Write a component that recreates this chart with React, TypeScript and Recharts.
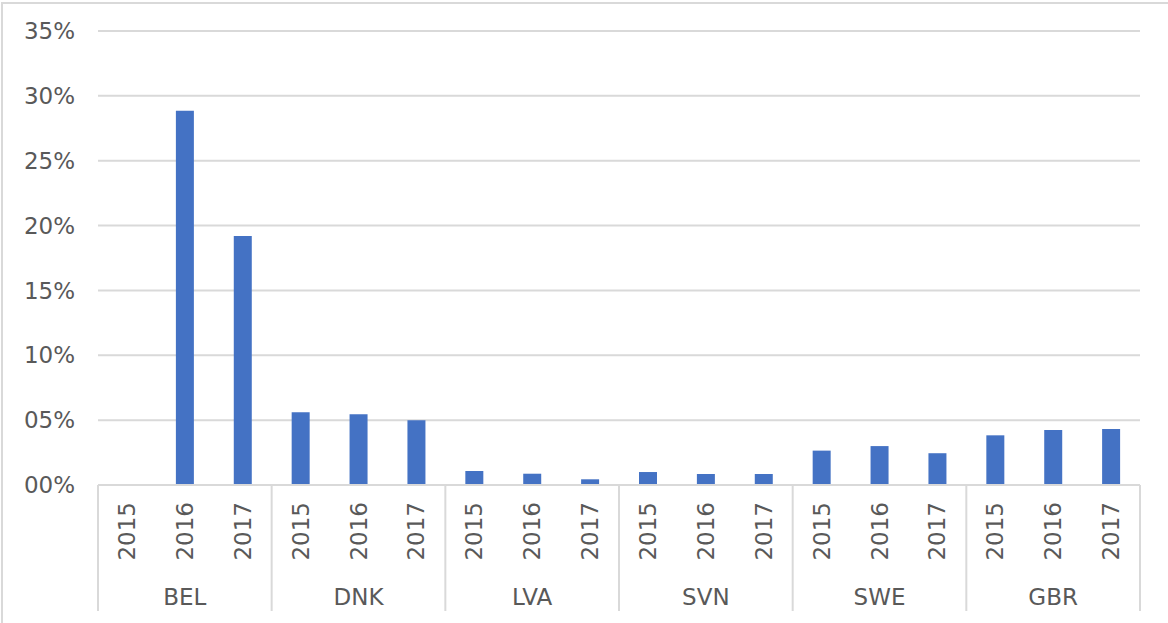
import { BarChart, Bar, XAxis, YAxis, CartesianGrid } from "recharts";

const countries = ["BEL", "DNK", "LVA", "SVN", "SWE", "GBR"];
const years = ["2015", "2016", "2017"];

// share per country, 2015 / 2016 / 2017
const bel = [0, 0.2886, 0.192];
const dnk = [0.056, 0.0545, 0.05];
const lva = [0.0108, 0.0087, 0.0044];
const svn = [0.01, 0.0085, 0.0085];
const swe = [0.0265, 0.03, 0.0245];
const gbr = [0.0383, 0.0424, 0.0432];

const yTicks = [0, 0.05, 0.1, 0.15, 0.2, 0.25, 0.3, 0.35];

const seriesByCountry = [bel, dnk, lva, svn, swe, gbr];

const data = countries.flatMap((country, ci) =>
  years.map((year, yi) => ({ country, year, value: seriesByCountry[ci][yi] }))
);

const W = 1168;
const H = 623;
const M = { top: 31, right: 28, left: 0, bottom: 0 };
const Y_AXIS_W = 98;
const FONT = "'DejaVu Sans', Verdana, sans-serif";
const TEXT = "#595959";
const GRID = "#d9d9d9";

const formatPct = (v: number) => `${String(Math.round(v * 100)).padStart(2, "0")}%`;

const YearTick = (props: any) => {
  const { x, y, payload, index } = props;
  const i = payload?.index ?? index;
  const band = (W - M.left - M.right - Y_AXIS_W) / data.length;
  const half = payload?.offset > 0 ? payload.offset : band / 2;
  return (
    <g>
      <text
        transform={`translate(${x},${y + 17}) rotate(-90)`}
        textAnchor="end"
        dy="0.35em"
        fill={TEXT}
        fontSize={23}
        fontFamily={FONT}
      >
        {payload.value}
      </text>
      {i % 3 === 0 && (
        <line x1={x - half} x2={x - half} y1={y} y2={y + 126} stroke={GRID} strokeWidth={2} />
      )}
      {i === data.length - 1 && (
        <line x1={x + half} x2={x + half} y1={y} y2={y + 126} stroke={GRID} strokeWidth={2} />
      )}
      {i % 3 === 1 && (
        <text x={x} y={y + 112} dy="0.35em" textAnchor="middle" fill={TEXT} fontSize={23} fontFamily={FONT}>
          {data[i].country}
        </text>
      )}
    </g>
  );
};

export default function App() {
  return (
    <div style={{ position: "absolute", left: 0, top: 0, width: W, height: H, background: "#fff" }}>
      <div
        style={{
          position: "absolute",
          left: 1,
          top: 2,
          width: W - 1,
          height: H - 2,
          borderTop: `2px solid ${GRID}`,
          borderLeft: `2px solid ${GRID}`,
          boxSizing: "border-box",
        }}
      />
      <BarChart width={W} height={H} data={data} margin={M} barSize={18}>
        <CartesianGrid vertical={false} stroke={GRID} strokeWidth={2} />
        <XAxis
          dataKey="year"
          interval={0}
          height={H - 485}
          tickLine={false}
          tickSize={0}
          tickMargin={0}
          axisLine={{ stroke: GRID, strokeWidth: 2 }}
          tick={<YearTick />}
        />
        <YAxis
          width={Y_AXIS_W}
          domain={[0, 0.35]}
          ticks={yTicks}
          tickFormatter={formatPct}
          axisLine={false}
          tickLine={false}
          tickSize={0}
          tickMargin={23}
          tick={{ fill: TEXT, fontSize: 23, fontFamily: FONT }}
        />
        <Bar dataKey="value" fill="#4472C4" isAnimationActive={false} />
      </BarChart>
    </div>
  );
}
